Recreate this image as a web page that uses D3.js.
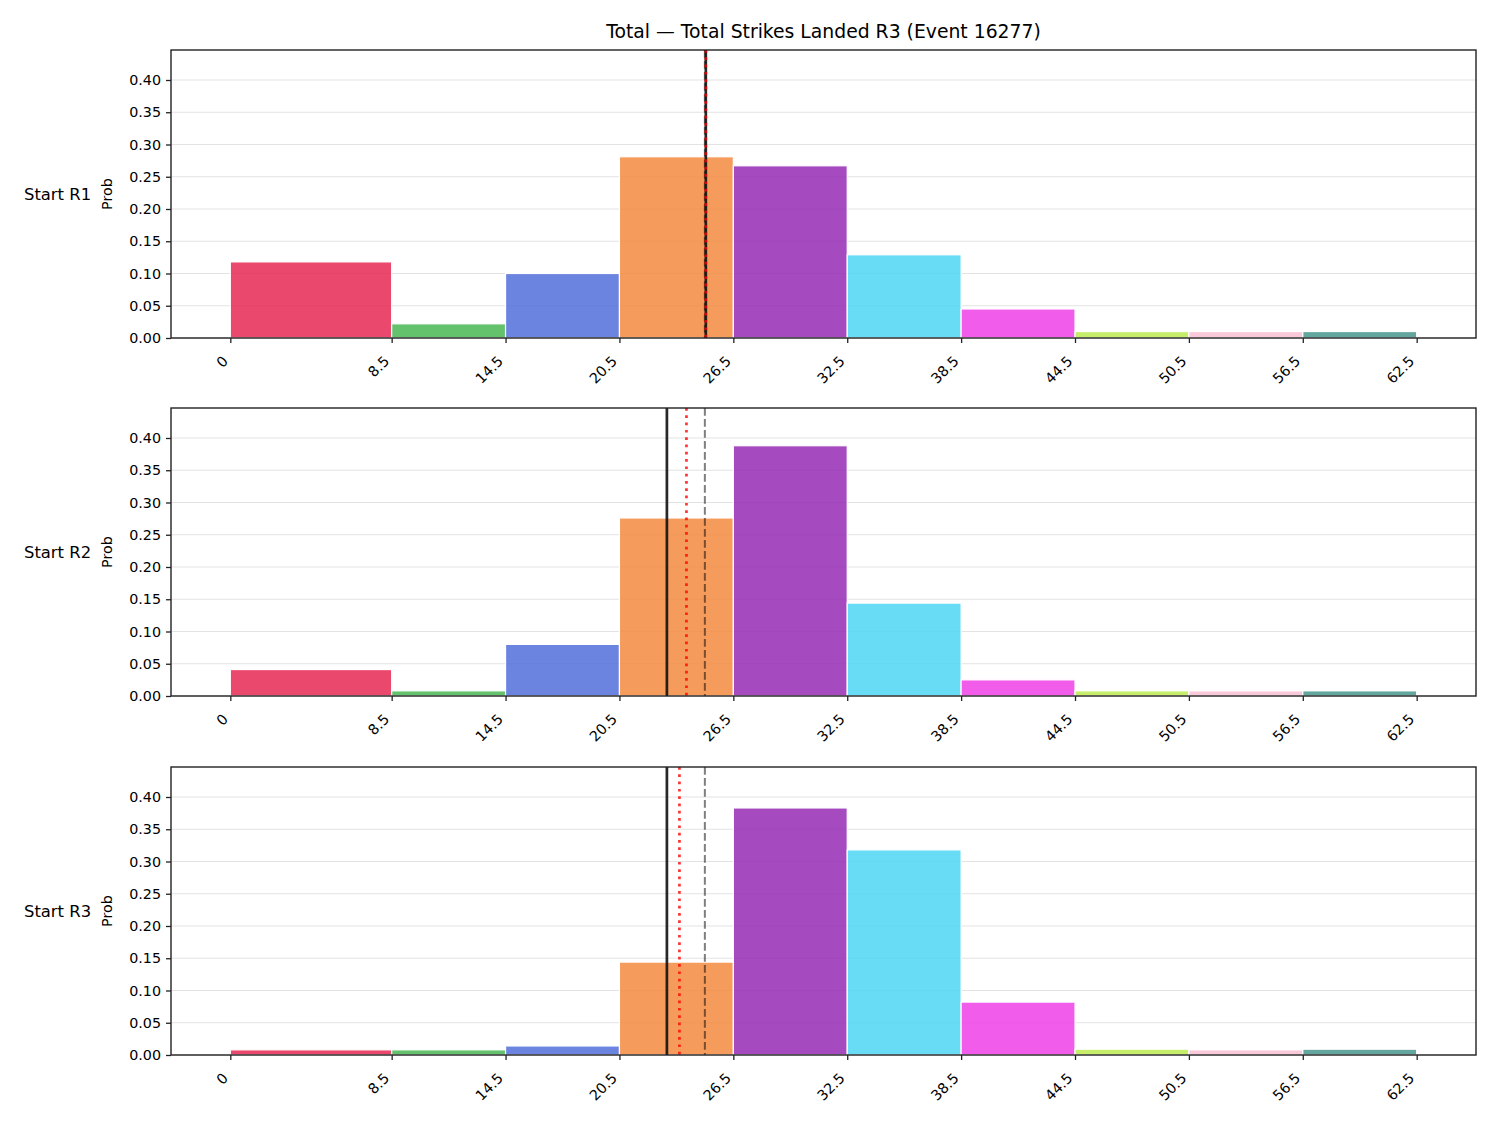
<!DOCTYPE html>
<html>
<head>
<meta charset="utf-8">
<script src="https://cdn.jsdelivr.net/npm/d3@7"></script>
<style>
  body { margin: 0; background: #fff; }
  text { font-family: "DejaVu Sans", sans-serif; }
</style>
</head>
<body>
<div id="chart"></div>
<script>
// bin edges of the histogram (strikes landed)
const binEdges = [0, 8.5, 14.5, 20.5, 26.5, 32.5, 38.5, 44.5, 50.5, 56.5, 62.5];
const binColors = ["#e62854", "#49b754", "#516ed9", "#f38a3f", "#952bb4",
                   "#4dd5f3", "#ee3fe6", "#bdeb51", "#f8bfd3", "#48978d"];

const panelLabels = ["Start R1", "Start R2", "Start R3"];
const probR1 = [0.118, 0.022, 0.100, 0.281, 0.267, 0.129, 0.045, 0.010, 0.010, 0.010];
const probR2 = [0.041, 0.008, 0.080, 0.276, 0.388, 0.144, 0.025, 0.008, 0.008, 0.008];
const probR3 = [0.008, 0.008, 0.014, 0.144, 0.383, 0.318, 0.082, 0.009, 0.008, 0.009];
const panelProbs = [probR1, probR2, probR3];

// reference lines per panel
const solidLine = [25.05, 23.0, 23.0];
const dottedLine = [25.05, 24.03, 23.66];
const dashedLine = [25.0, 25.0, 25.0];

const yTicks = [0, 0.05, 0.10, 0.15, 0.20, 0.25, 0.30, 0.35, 0.40];
const title = "Total \u2014 Total Strikes Landed R3 (Event 16277)";

const W = 1500, H = 1125;
const left = 171, right = 1476;
const tops = [50, 408, 767];
const ph = 288;

const svg = d3.select("#chart").append("svg")
  .attr("width", W).attr("height", H);

svg.append("text")
  .attr("x", (left + right) / 2)
  .attr("y", 38)
  .attr("text-anchor", "middle")
  .style("font-size", "18.8px")
  .text(title);

const x = d3.scaleLinear().domain([-3.125, 65.625]).range([left, right]);

panelProbs.forEach((probs, p) => {
  const top = tops[p];
  const y = d3.scaleLinear().domain([0, 0.4465]).range([top + ph, top]);
  const g = svg.append("g");

  // grid
  g.selectAll(".grid").data(yTicks).enter().append("line")
    .attr("x1", left).attr("x2", right)
    .attr("y1", d => y(d)).attr("y2", d => y(d))
    .attr("stroke", "#e3e3e3").attr("stroke-width", 1);

  // bars
  const bins = probs.map((v, i) => ({ x0: binEdges[i], x1: binEdges[i + 1], v, c: binColors[i] }));
  g.selectAll(".bar").data(bins).enter().append("rect")
    .attr("x", d => x(d.x0))
    .attr("width", d => x(d.x1) - x(d.x0))
    .attr("y", d => y(d.v))
    .attr("height", d => y(0) - y(d.v))
    .attr("fill", d => d.c)
    .attr("fill-opacity", 0.85)
    .attr("stroke", "#fff")
    .attr("stroke-width", 1.2);

  // reference lines
  g.append("line")
    .attr("x1", x(dashedLine[p])).attr("x2", x(dashedLine[p]))
    .attr("y1", top).attr("y2", top + ph)
    .attr("stroke", "#000").attr("stroke-opacity", 0.5)
    .attr("stroke-width", 2).attr("stroke-dasharray", "7.7,3.3");
  g.append("line")
    .attr("x1", x(solidLine[p])).attr("x2", x(solidLine[p]))
    .attr("y1", top).attr("y2", top + ph)
    .attr("stroke", "#111").attr("stroke-opacity", 0.9)
    .attr("stroke-width", 2.7);
  g.append("line")
    .attr("x1", x(dottedLine[p])).attr("x2", x(dottedLine[p]))
    .attr("y1", top).attr("y2", top + ph)
    .attr("stroke", "#ff0000").attr("stroke-opacity", 0.8)
    .attr("stroke-width", 2.7).attr("stroke-dasharray", "2.7,4.6");

  // axes
  const yAxis = d3.axisLeft(y).tickValues(yTicks).tickFormat(d3.format(".2f"))
    .tickSize(5).tickPadding(5);
  const ya = g.append("g").attr("transform", `translate(${left},0)`).call(yAxis);
  ya.select(".domain").remove();
  ya.selectAll("text").style("font-size", "14.3px").attr("fill", "#000");
  ya.selectAll("line").attr("stroke", "#222").attr("stroke-width", 1.3);

  const xAxis = d3.axisBottom(x).tickValues(binEdges).tickFormat(d => d3.format("")(d))
    .tickSize(5);
  const xa = g.append("g").attr("transform", `translate(0,${top + ph})`).call(xAxis);
  xa.select(".domain").remove();
  xa.selectAll("line").attr("stroke", "#222").attr("stroke-width", 1.3);
  xa.selectAll("text")
    .style("font-size", "14.3px").attr("fill", "#000")
    .attr("text-anchor", "end")
    .attr("y", 0).attr("dy", 0)
    .attr("transform", "translate(-2,24) rotate(-45)");

  // frame
  g.append("rect")
    .attr("x", left).attr("y", top)
    .attr("width", right - left).attr("height", ph)
    .attr("fill", "none").attr("stroke", "#222").attr("stroke-width", 1.4);

  // labels
  g.append("text")
    .attr("transform", `translate(112,${top + ph / 2}) rotate(-90)`)
    .attr("text-anchor", "middle")
    .style("font-size", "14.3px")
    .text("Prob");
  g.append("text")
    .attr("x", 24).attr("y", top + ph / 2)
    .attr("dy", "0.35em")
    .style("font-size", "16.4px")
    .text(panelLabels[p]);
});
</script>
</body>
</html>
